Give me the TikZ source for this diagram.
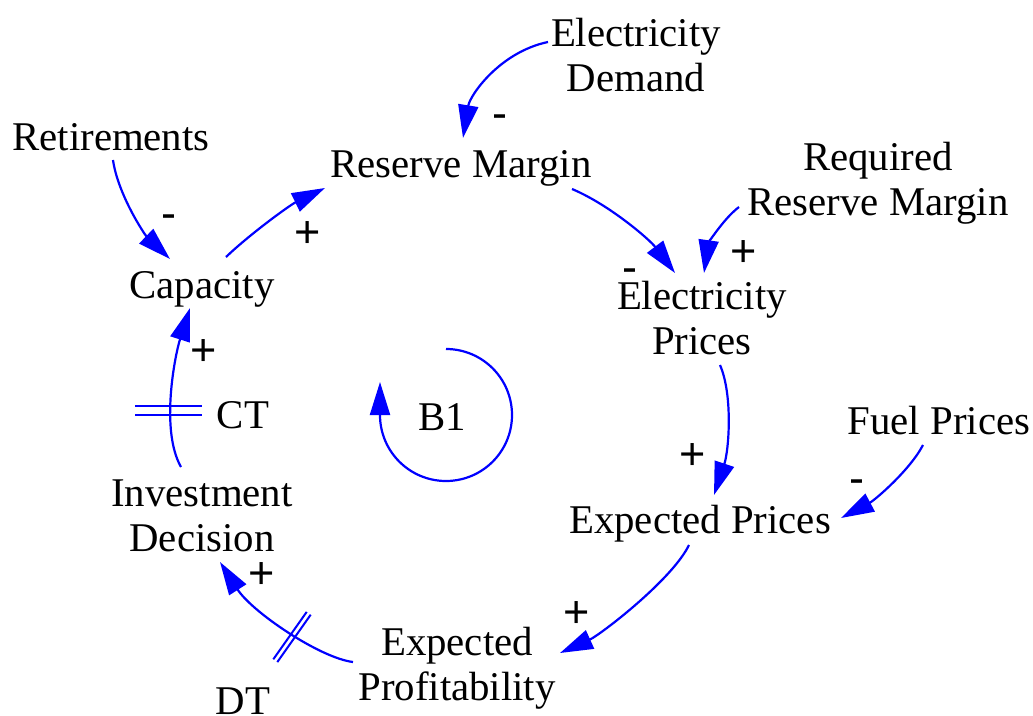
\documentclass[tikz,border=0pt]{standalone}
\usepackage{fontspec}
\setmainfont{Liberation Serif}
\newfontfamily\signfont{Liberation Sans}
\usetikzlibrary{arrows.meta,calc}
\begin{document}
\begin{tikzpicture}[x=1pt,y=-1pt,
  var/.style={anchor=base,inner sep=0pt,align=center,font=\fontsize{40.8}{45}\selectfont},
  sgn/.style={inner sep=0pt,font=\signfont\fontsize{45}{45}\selectfont},
  link/.style={draw=blue,line width=2.2pt,-{Triangle[length=33pt,width=20pt]}},
  delaymark/.style={draw=blue,line width=2pt}]
\useasboundingbox (0,0) rectangle (1033,715);
% variables (base = baseline of the last line)
\node[var] (ed) at (636,91) {Electricity\\Demand};
\node[var] (ret) at (111,150) {Retirements};
\node[var] (rm) at (461,177) {Reserve Margin};
\node[var] (rrm) at (878,215) {Required\\Reserve Margin};
\node[var] (cap) at (202,298) {Capacity};
\node[var] (ep) at (702,354) {Electricity\\Prices};
\node[var] (b1) at (442,430) {B1};
\node[var] (ct) at (243,428) {CT};
\node[var] (inv) at (202,551) {Investment\\Decision};
\node[var] (fp) at (939,434) {Fuel Prices};
\node[var] (xp) at (700,533) {Expected Prices};
\node[var] (prof) at (457,700) {Expected\\Profitability};
\node[var] (dt) at (243,714) {DT};
% links
\draw[link] ($(ed.base)+(-88,-49)$) .. controls (500,52) and (470,95) .. ($(rm.base)+(2,-39)$);
\draw[link] ($(ret.base)+(2,10)$) .. controls (118,195) and (145,235) .. ($(cap.base)+(-32,-39)$);
\draw[link] ($(cap.base)+(24,-41)$) .. controls (250,234) and (290,205) .. ($(rm.base)+(-136,11)$);
\draw[link] ($(rm.base)+(111,12)$) .. controls (610,205) and (650,240) .. ($(ep.base)+(-27,-81)$);
\draw[link] ($(rrm.base)+(-139,-8)$) .. controls (722,220) and (708,245) .. ($(ep.base)+(2,-81)$);
\draw[link] ($(ep.base)+(18,11)$) .. controls (733,395) and (729,450) .. ($(xp.base)+(14,-38)$);
\draw[link] ($(fp.base)+(-16,11)$) .. controls (910,470) and (875,500) .. ($(xp.base)+(141,-15)$);
\draw[link] ($(xp.base)+(-11,12)$) .. controls (672,580) and (600,635) .. ($(prof.base)+(103,-47)$);
\draw[link] ($(prof.base)+(-104,-38)$) .. controls (320,658) and (252,612) .. ($(inv.base)+(18,11)$);
\draw[link] ($(inv.base)+(-21,-84)$) .. controls (160,430) and (175,355) .. ($(cap.base)+(-12,10)$);
% loop marker
\draw[link] ($(b1.base)+(4,-81)$) arc[start angle=-90,end angle=180,radius=66] -- ++(0,-33);
% delay marks
\draw[delaymark] ($(ct.base)+(-108,-22)$) -- ($(ct.base)+(-41,-22)$);
\draw[delaymark] ($(ct.base)+(-108,-13)$) -- ($(ct.base)+(-41,-13)$);
\draw[delaymark] ($(dt.base)+(30.3,-54.7)$) -- ($(dt.base)+(63.7,-102.1)$);
\draw[delaymark] ($(dt.base)+(34.3,-51.9)$) -- ($(dt.base)+(67.7,-99.3)$);
% polarity signs
\node[sgn] (s1) at (500,122) {-};
\node[sgn] (s2) at (169,222) {-};
\node[sgn] (s3) at (308,234.5) {+};
\node[sgn] (s4) at (630,276) {-};
\node[sgn] (s5) at (744,253.5) {+};
\node[sgn] (s6) at (693,456.5) {+};
\node[sgn] (s7) at (857,487) {-};
\node[sgn] (s8) at (577,614.5) {+};
\node[sgn] (s9) at (262,575.5) {+};
\node[sgn] (s10) at (204,352.5) {+};
\end{tikzpicture}
\end{document}
